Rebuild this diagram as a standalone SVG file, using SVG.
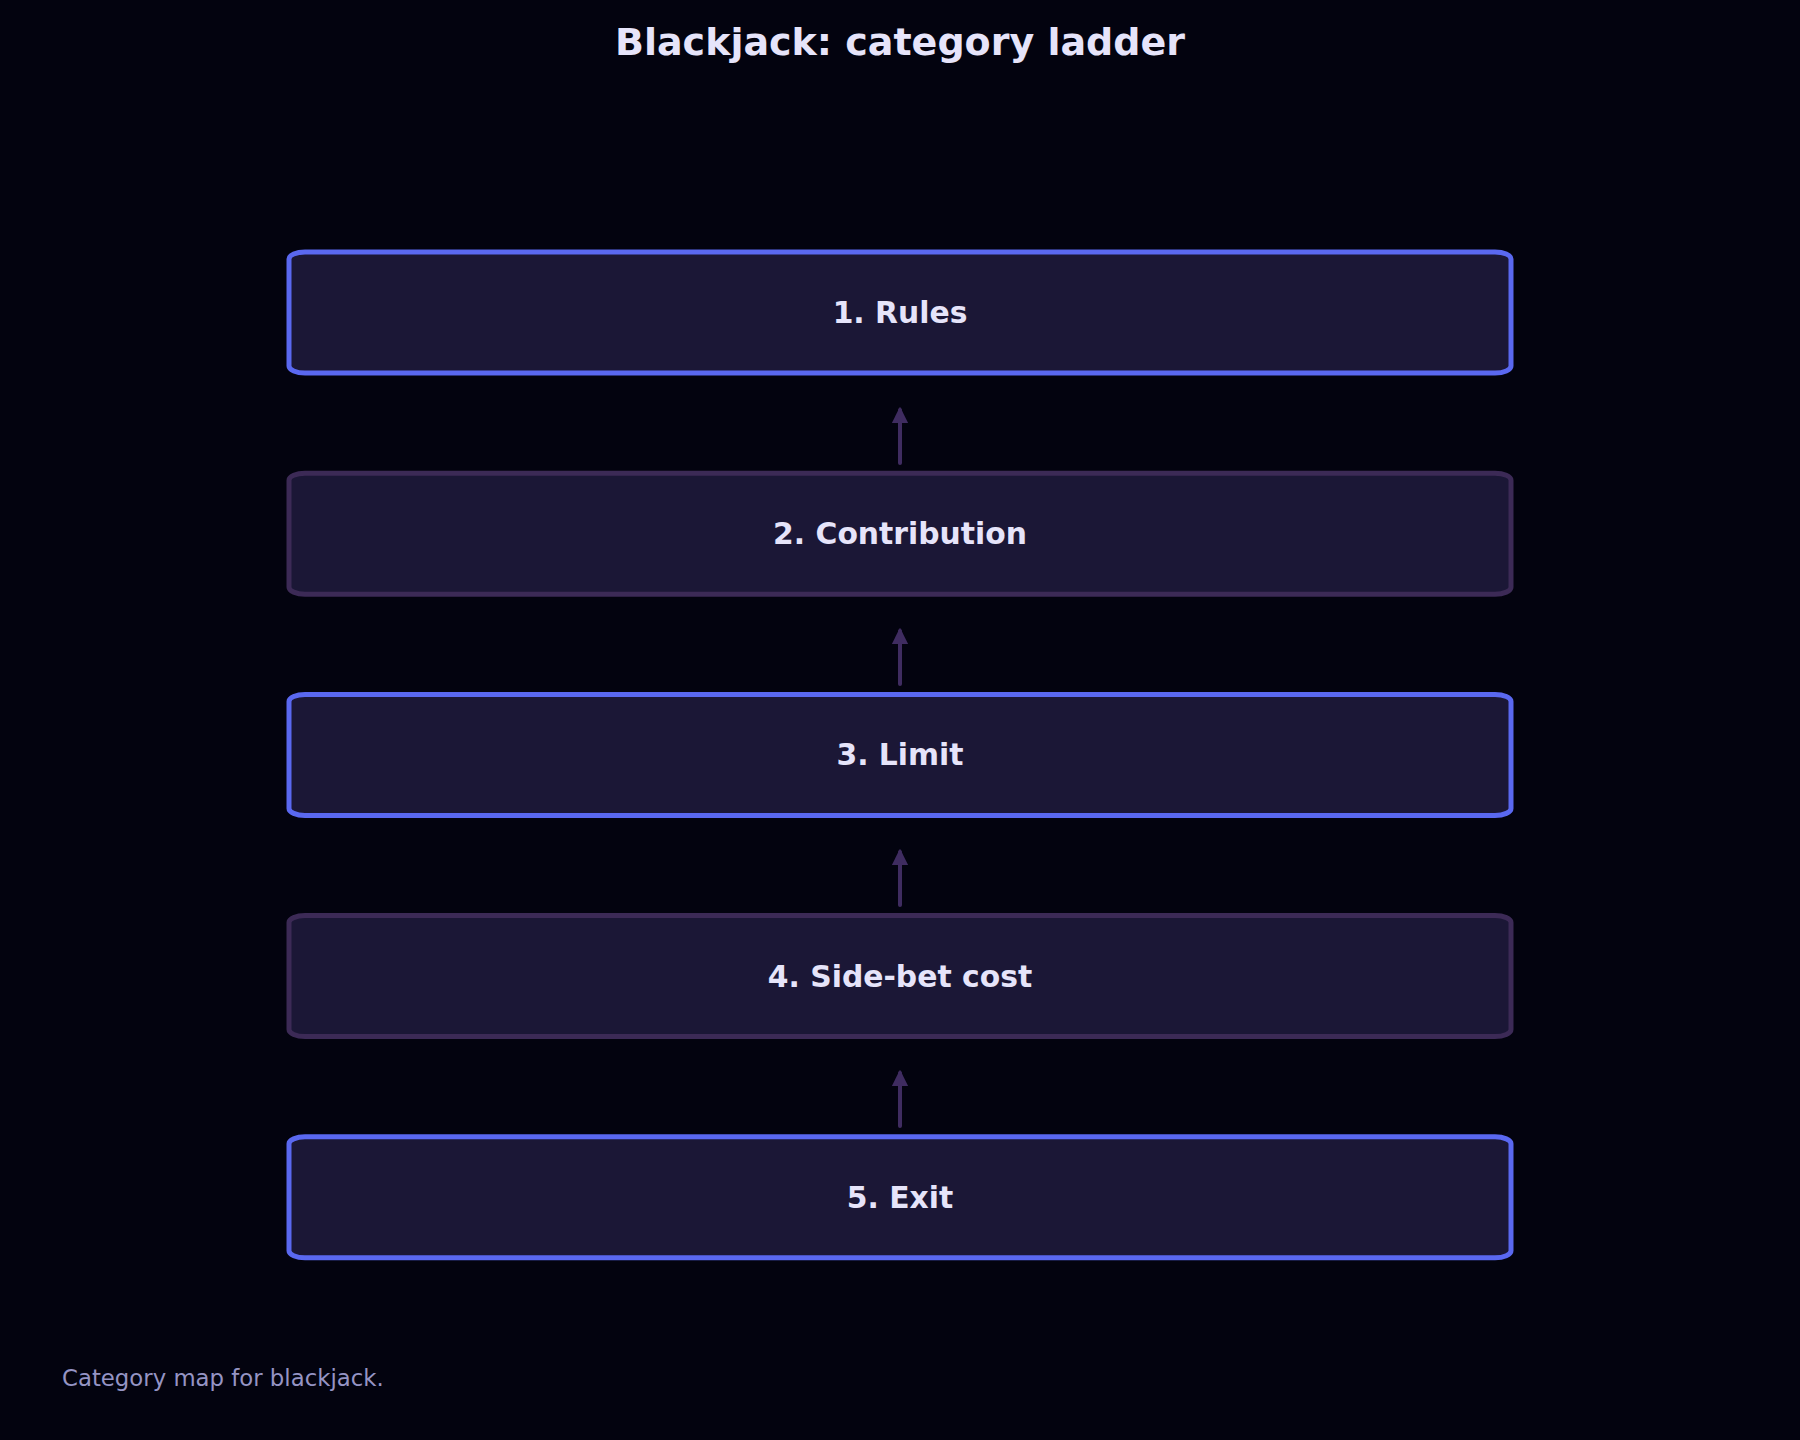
<svg xmlns="http://www.w3.org/2000/svg" width="1800" height="1440" viewBox="0 0 1800 1440">
<defs>
<style>
.bg{fill:#03030f}
.box{fill:#1b1736;stroke-width:5}
.hi{stroke:#5a68f0}
.lo{stroke:#3c2a56}
.lbl{font-family:"DejaVu Sans","Liberation Sans",sans-serif;font-weight:bold;font-size:29.8px;fill:#e6e4fa;text-anchor:middle}
.title{font-family:"DejaVu Sans","Liberation Sans",sans-serif;font-weight:bold;font-size:38px;fill:#e6e4fa;text-anchor:middle}
.foot{font-family:"DejaVu Sans","Liberation Sans",sans-serif;font-size:22.8px;fill:#9594c4}
.conn{stroke:#3f2c60;stroke-width:4;fill:none;stroke-linecap:round}
</style>
<marker id="ah" viewBox="0 0 10 10" refX="8" refY="5" markerWidth="4.2" markerHeight="4.2" orient="auto" markerUnits="strokeWidth">
<path d="M0,0 L10,5 L0,10 z" fill="#3f2c60"/>
</marker>
</defs>
<rect class="bg" x="0" y="0" width="1800" height="1440"/>
<text class="title" x="900" y="55">Blackjack: category ladder</text>
<g id="connectors">
<line class="conn" x1="900" y1="463" x2="900" y2="410" marker-end="url(#ah)"/>
<line class="conn" x1="900" y1="684" x2="900" y2="631" marker-end="url(#ah)"/>
<line class="conn" x1="900" y1="905" x2="900" y2="852" marker-end="url(#ah)"/>
<line class="conn" x1="900" y1="1126" x2="900" y2="1073" marker-end="url(#ah)"/>
</g>
<g id="n1"><rect class="box hi" x="289" y="252" width="1222" height="121" rx="16" ry="7"/><text class="lbl" x="900" y="323">1. Rules</text></g>
<g id="n2"><rect class="box lo" x="289" y="473.2" width="1222" height="121" rx="16" ry="7"/><text class="lbl" x="900" y="544.2">2. Contribution</text></g>
<g id="n3"><rect class="box hi" x="289" y="694.4" width="1222" height="121" rx="16" ry="7"/><text class="lbl" x="900" y="765.4">3. Limit</text></g>
<g id="n4"><rect class="box lo" x="289" y="915.6" width="1222" height="121" rx="16" ry="7"/><text class="lbl" x="900" y="986.6">4. Side-bet cost</text></g>
<g id="n5"><rect class="box hi" x="289" y="1136.8" width="1222" height="121" rx="16" ry="7"/><text class="lbl" x="900" y="1207.8">5. Exit</text></g>
<text class="foot" x="62" y="1386">Category map for blackjack.</text>
</svg>
